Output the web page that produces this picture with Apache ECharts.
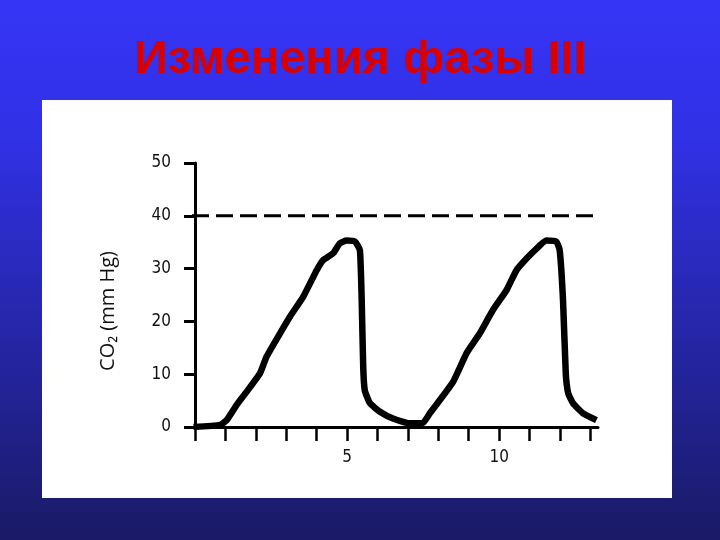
<!DOCTYPE html>
<html>
<head>
<meta charset="utf-8">
<script src="https://cdn.jsdelivr.net/npm/echarts@6/dist/echarts.min.js"></script>
<style>html,body{margin:0;padding:0;}#c{width:720px;height:540px;}</style>
</head>
<body>
<div id="c"></div>
<script>
// --- data ---
const titleText = 'Изменения фазы III';
const yAxisName = 'CO₂ (mm Hg)';
const timeValues = [-0.05, 0.82, 1.04, 1.37, 1.70, 2.14, 2.35, 2.79, 3.12, 3.56, 4.00, 4.21, 4.54, 4.76, 4.98, 5.26, 5.42, 5.48, 5.53, 5.58, 5.75, 6.08, 6.51, 7.06, 7.50, 7.72, 8.05, 8.49, 8.93, 9.36, 9.80, 10.24, 10.57, 10.90, 11.23, 11.55, 11.88, 11.99, 12.10, 12.19, 12.27, 12.43, 12.76, 13.20];
const co2Values  = [0.0, 0.4, 1.3, 4.2, 6.7, 10.2, 13.3, 17.7, 20.9, 24.7, 29.7, 31.6, 32.9, 34.8, 35.3, 35.1, 33.5, 24.0, 11.4, 7.0, 4.5, 2.9, 1.6, 0.7, 0.8, 2.6, 5.1, 8.6, 14.0, 17.7, 22.2, 25.9, 29.7, 31.9, 33.8, 35.3, 35.1, 33.5, 24.0, 10.2, 6.4, 4.5, 2.6, 1.3];
const refX = [-0.1, 13.15];
const refY = [40, 40];
const xTicks = [0,1,2,3,4,5,6,7,8,9,10,11,12,13];
const xTickLabels = [5, 10];
const yTicks = [0,10,20,30,40,50];

const chart = echarts.init(document.getElementById('c'), null, {renderer:'canvas'});
const labelFont = '"Liberation Sans Narrow", "DejaVu Sans Condensed", "Liberation Sans", sans-serif';
chart.setOption({
  animation: false,
  backgroundColor: {
    type: 'linear', x: 0, y: 0, x2: 0, y2: 1,
    colorStops: [
      {offset: 0, color: '#3535f6'},
      {offset: 0.25, color: '#3131e6'},
      {offset: 1, color: '#1a1a66'}
    ]
  },
  title: {
    text: titleText,
    left: 'center',
    top: 32,
    textStyle: {color: '#d80000', fontSize: 47, fontWeight: 'bold', fontFamily: '"Liberation Sans", Arial, sans-serif'}
  },
  graphic: [{
    type: 'rect', z: -10, zlevel: 0,
    shape: {x: 42, y: 100, width: 630, height: 398},
    style: {fill: '#ffffff'},
    silent: true
  }],
  grid: {left: 192, top: 163, width: 406, height: 264, containLabel: false},
  xAxis: {
    type: 'value', min: -0.1, max: 13.25,
    axisLine: {show: true, onZero: false, lineStyle: {color: '#000', width: 3}},
    axisTick: {show: true, customValues: xTicks, length: 14, inside: false, lineStyle: {color: '#000', width: 2.5}},
    axisLabel: {customValues: xTickLabels, margin: 22, color: '#111', fontSize: 17, fontFamily: labelFont},
    splitLine: {show: false}
  },
  yAxis: {
    type: 'value', min: 0, max: 50,
    name: yAxisName, nameLocation: 'middle', nameGap: 74, nameRotate: 90,
    nameTextStyle: {color: '#111', fontSize: 20, fontFamily: '"Open Sans", "Liberation Sans", sans-serif', padding: [0, 32, 0, 0]},
    axisLine: {show: true, lineStyle: {color: '#000', width: 3}},
    axisTick: {show: true, customValues: yTicks, length: 11, lineStyle: {color: '#000', width: 3}},
    axisLabel: {customValues: yTicks, margin: 21, color: '#111', fontSize: 17, fontFamily: labelFont},
    splitLine: {show: false}
  },
  series: [
    {
      type: 'line',
      data: refX.map((x, i) => [x, refY[i]]),
      symbol: 'none',
      lineStyle: {color: '#000', width: 3, type: [17, 7]},
      z: 3
    },
    {
      type: 'line',
      data: timeValues.map((x, i) => [x, co2Values[i]]),
      symbol: 'none',
      smooth: 0.15,
      lineStyle: {color: '#000', width: 6.5},
      z: 4
    }
  ]
});
</script>
</body>
</html>
